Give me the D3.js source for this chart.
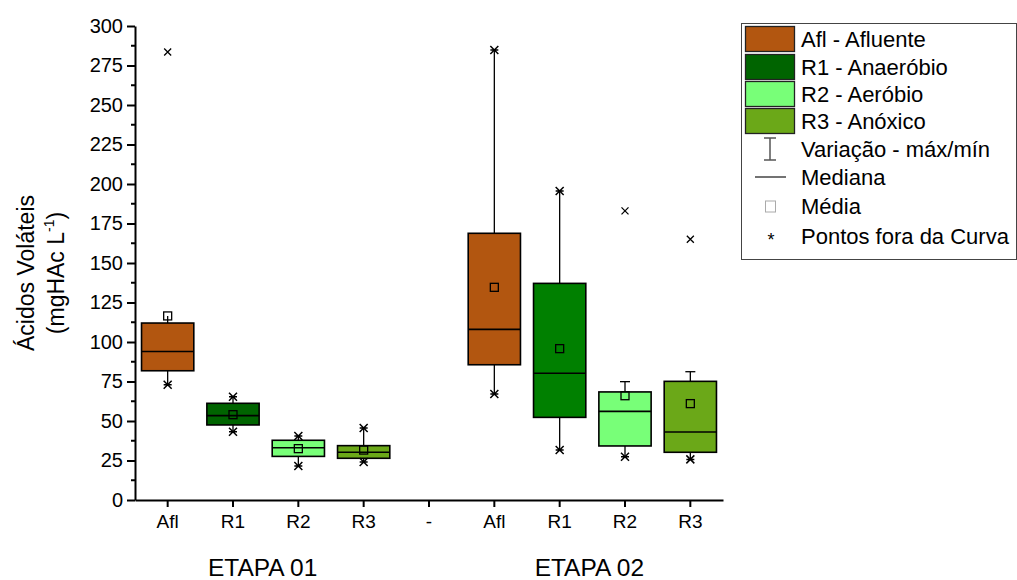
<!DOCTYPE html>
<html>
<head>
<meta charset="utf-8">
<script src="https://cdn.jsdelivr.net/npm/d3@7"></script>
<style>
  html, body { margin: 0; padding: 0; background: #fff; }
  svg { display: block; font-family: "Liberation Sans", Arial, sans-serif; }
</style>
</head>
<body>
<svg id="chart" width="1017" height="580"></svg>
<script>
// Category positions along the x axis (the "-" slot separates the two stages)
const categories = ["Afl", "R1", "R2", "R3", "-", "Afl", "R1", "R2", "R3"];
const stageLabels = ["ETAPA 01", "ETAPA 02"];
const stageSlots = [[0, 3], [5, 8]];

// One box per reactor and stage, in x-slot order
const boxSlot   = [0, 1, 2, 3, 5, 6, 7, 8];
const boxSeries = ["Afl", "R1", "R2", "R3", "Afl", "R1", "R2", "R3"];
const q1        = [81.8, 47.5, 27.6, 26.4, 85.6, 52.3, 34.2, 30.2];
const median    = [94.0, 53.4, 33.1, 30.2, 108.0, 80.2, 56.1, 43.0];
const q3        = [112.0, 61.2, 37.8, 34.4, 168.8, 137.1, 68.4, 75.1];
const mean      = [116.5, 54.0, 32.5, 31.6, 134.6, 95.8, 66.0, 61.0];
const minimum   = [73.0, 43.2, 21.5, 24.0, 67.1, 31.6, 27.4, 25.7];
const maximum   = [116.5, 65.4, 40.5, 45.6, 284.8, 195.6, 74.9, 81.2];
// How the upper whisker ends: "star" (min/max point), "cap" or "none"
const maxEnd    = ["none", "star", "star", "star", "star", "star", "cap", "cap"];

// Points outside the curve
const outlierSlot  = [0, 7, 8];
const outlierValue = [283.5, 183.0, 165.0];

const yTicks = [0, 25, 50, 75, 100, 125, 150, 175, 200, 225, 250, 275, 300];

const legendItems = ["Afl - Afluente", "R1 - Anaeróbio", "R2 - Aeróbio", "R3 - Anóxico"];
const legendMarks = ["Variação - máx/mín", "Mediana", "Média", "Pontos fora da Curva"];

// ---- styles ----
const seriesColor = { "Afl": "#B25610", "R1": "#006400", "R2": "#78FF78", "R3": "#6BA818" };
const boxColor = ["#B25610", "#006400", "#78FF78", "#6BA818", "#B25610", "#008000", "#78FF78", "#6BA818"];

const svg = d3.select("#chart");
const plotLeft = 135, plotRight = 723, plotTop = 26, plotBottom = 500;

const x = d3.scaleBand().domain(d3.range(categories.length)).range([plotLeft, plotRight])
  .paddingInner(0.2).paddingOuter(0.1);
const y = d3.scaleLinear().domain([0, 300]).range([plotBottom, plotTop]);

// ---- axes ----
const yAxis = svg.append("g").attr("transform", `translate(${plotLeft},0)`)
  .call(d3.axisLeft(y).tickValues(yTicks).tickSize(8).tickSizeOuter(0).tickPadding(4));
yAxis.select(".domain").attr("stroke-width", 2);
yAxis.selectAll(".tick line").attr("stroke-width", 2);
yAxis.selectAll(".tick text").attr("font-size", 20).attr("fill", "#000")
  .attr("font-family", "Liberation Sans, Arial, sans-serif");

// minor ticks
const minor = d3.range(12.5, 300, 25);
svg.append("g").selectAll("line").data(minor).join("line")
  .attr("x1", plotLeft - 4).attr("x2", plotLeft)
  .attr("y1", d => y(d)).attr("y2", d => y(d))
  .attr("stroke", "#000").attr("stroke-width", 2);

const xAxis = svg.append("g").attr("transform", `translate(0,${plotBottom})`)
  .call(d3.axisBottom(x).tickFormat(i => categories[i]).tickSize(7).tickSizeOuter(0).tickPadding(8));
xAxis.select(".domain").attr("stroke-width", 2);
xAxis.selectAll(".tick line").attr("stroke-width", 2);
xAxis.selectAll(".tick text").attr("font-size", 19).attr("fill", "#000")
  .attr("font-family", "Liberation Sans, Arial, sans-serif");

// stage labels, centred under their four categories
svg.append("g").selectAll("text").data(stageLabels).join("text")
  .attr("x", (d, i) => (x(stageSlots[i][0]) + x(stageSlots[i][1]) + x.bandwidth()) / 2 - 3)
  .attr("y", 576).attr("text-anchor", "middle").attr("font-size", 24.5)
  .text(d => d);

// y title
const yt = svg.append("g").attr("transform", "translate(0,273)");
yt.append("text").attr("transform", "translate(34,0) rotate(-90)")
  .attr("text-anchor", "middle").attr("font-size", 23).text("Ácidos Voláteis");
const yt2 = yt.append("text").attr("transform", "translate(64,0) rotate(-90)")
  .attr("text-anchor", "middle").attr("font-size", 23);
yt2.append("tspan").text("(mgHAc L");
yt2.append("tspan").attr("font-size", 14).attr("dy", -10).text("-1");
yt2.append("tspan").attr("dy", 10).text(")");

// ---- marker helpers ----
function crossPath(cx, cy, r) {
  return `M${cx - r},${cy - r}L${cx + r},${cy + r}M${cx - r},${cy + r}L${cx + r},${cy - r}`;
}
function starPath(cx, cy, r) {
  return crossPath(cx, cy, r) + `M${cx - r},${cy}L${cx + r},${cy}`;
}

// ---- boxes ----
const boxes = boxSlot.map((s, i) => ({
  cx: x(s) + x.bandwidth() / 2, x0: x(s), w: x.bandwidth(),
  q1: q1[i], med: median[i], q3: q3[i], mean: mean[i],
  min: minimum[i], max: maximum[i], end: maxEnd[i], color: boxColor[i]
}));

const g = svg.append("g");
// whiskers
g.selectAll("line.wlo").data(boxes).join("line").attr("class", "wlo")
  .attr("x1", d => d.cx).attr("x2", d => d.cx)
  .attr("y1", d => y(d.q1)).attr("y2", d => y(d.min))
  .attr("stroke", "#000").attr("stroke-width", 1.3);
g.selectAll("line.whi").data(boxes).join("line").attr("class", "whi")
  .attr("x1", d => d.cx).attr("x2", d => d.cx)
  .attr("y1", d => y(d.q3)).attr("y2", d => y(d.max))
  .attr("stroke", "#000").attr("stroke-width", 1.3);
g.selectAll("line.cap").data(boxes.filter(d => d.end === "cap")).join("line").attr("class", "cap")
  .attr("x1", d => d.cx - 5).attr("x2", d => d.cx + 5)
  .attr("y1", d => y(d.max)).attr("y2", d => y(d.max))
  .attr("stroke", "#000").attr("stroke-width", 1.3);

// boxes
g.selectAll("rect.box").data(boxes).join("rect").attr("class", "box")
  .attr("x", d => d.x0).attr("width", d => d.w)
  .attr("y", d => y(d.q3)).attr("height", d => y(d.q1) - y(d.q3))
  .attr("fill", d => d.color).attr("stroke", "#000").attr("stroke-width", 1.6);
// medians
g.selectAll("line.med").data(boxes).join("line").attr("class", "med")
  .attr("x1", d => d.x0).attr("x2", d => d.x0 + d.w)
  .attr("y1", d => y(d.med)).attr("y2", d => y(d.med))
  .attr("stroke", "#000").attr("stroke-width", 1.6);
// means
g.selectAll("rect.mean").data(boxes).join("rect").attr("class", "mean")
  .attr("x", d => d.cx - 4).attr("y", d => y(d.mean) - 4)
  .attr("width", 8).attr("height", 8)
  .attr("fill", "none").attr("stroke", "#000").attr("stroke-width", 1.3);
// min / max points
g.selectAll("path.lo").data(boxes).join("path").attr("class", "lo")
  .attr("d", d => starPath(d.cx, y(d.min), 4))
  .attr("stroke", "#000").attr("stroke-width", 1.5).attr("fill", "none");
g.selectAll("path.hi").data(boxes.filter(d => d.end === "star")).join("path").attr("class", "hi")
  .attr("d", d => starPath(d.cx, y(d.max), 4))
  .attr("stroke", "#000").attr("stroke-width", 1.5).attr("fill", "none");
// outliers
g.selectAll("path.out").data(outlierValue).join("path").attr("class", "out")
  .attr("d", (d, i) => crossPath(x(outlierSlot[i]) + x.bandwidth() / 2, y(d), 3.5))
  .attr("stroke", "#000").attr("stroke-width", 1.3).attr("fill", "none");

// ---- legend ----
const lg = svg.append("g");
lg.append("rect").attr("x", 741.5).attr("y", 23.5).attr("width", 275).attr("height", 236)
  .attr("fill", "#fff").attr("stroke", "#444").attr("stroke-width", 1);
const rowY = [39, 67, 94, 121, 149, 177, 206, 236];
legendItems.forEach((t, i) => {
  lg.append("rect").attr("x", 745.5).attr("y", rowY[i] - 12.5).attr("width", 49).attr("height", 25)
    .attr("fill", seriesColor[t.split(" ")[0]]).attr("stroke", "#222").attr("stroke-width", 1.3);
});
legendItems.concat(legendMarks).forEach((t, i) => {
  lg.append("text").attr("x", 801).attr("y", rowY[i] + 8).attr("font-size", 22).text(t);
});
// range marker
lg.append("path").attr("d", `M764,${rowY[4] - 11}H776M770,${rowY[4] - 11}V${rowY[4] + 11}M764,${rowY[4] + 11}H776`)
  .attr("stroke", "#555").attr("stroke-width", 1.5).attr("fill", "none");
// median marker
lg.append("line").attr("x1", 755).attr("x2", 786).attr("y1", rowY[5]).attr("y2", rowY[5])
  .attr("stroke", "#444").attr("stroke-width", 1.5);
// mean marker
lg.append("rect").attr("x", 765.5).attr("y", rowY[6] - 5).attr("width", 10).attr("height", 11)
  .attr("fill", "none").attr("stroke", "#aaa").attr("stroke-width", 1);
// outlier marker
lg.append("text").attr("x", 771).attr("y", rowY[7] + 10).attr("text-anchor", "middle")
  .attr("font-size", 18).text("*");
</script>
</body>
</html>
